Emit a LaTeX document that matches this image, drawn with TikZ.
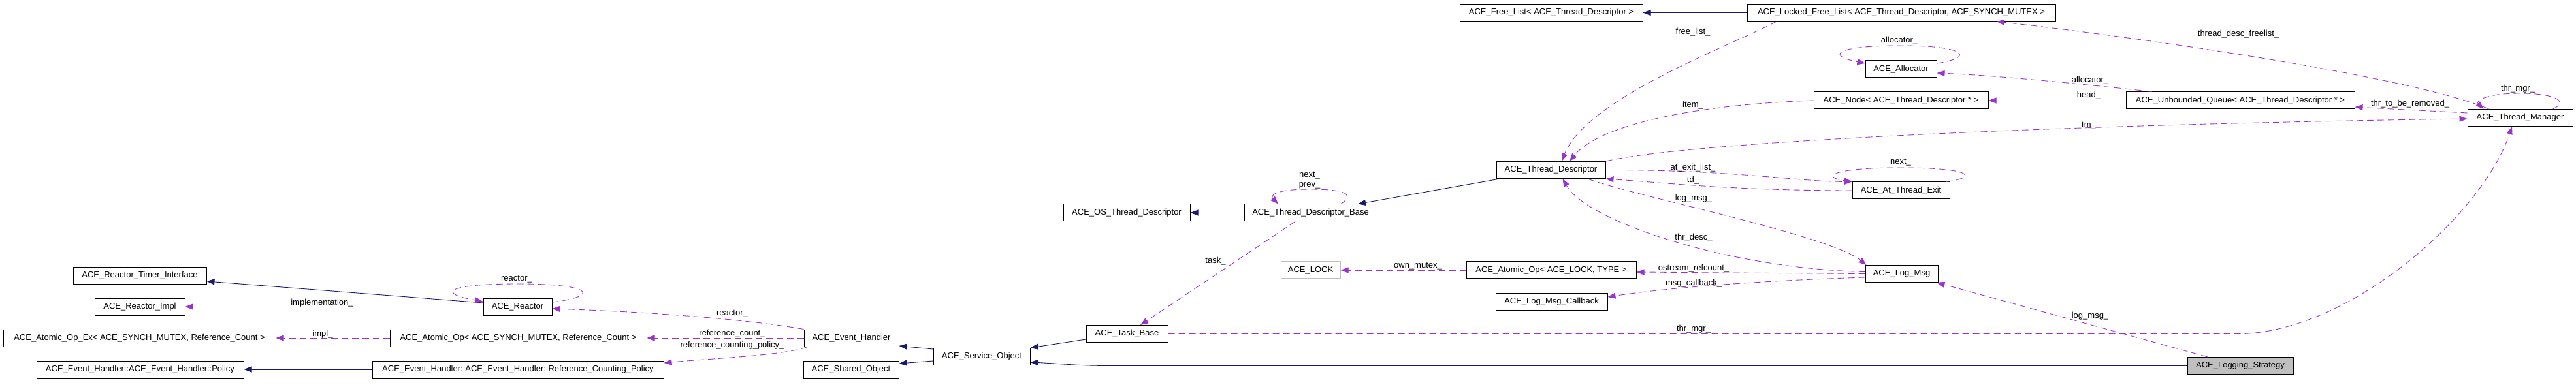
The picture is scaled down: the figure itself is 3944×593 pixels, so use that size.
\documentclass[tikz,border=0pt]{standalone}
\usepackage{fontspec}
\setmainfont{Liberation Sans}
\usetikzlibrary{arrows.meta}
\definecolor{dxblue}{HTML}{191970}
\definecolor{dxpurple}{HTML}{9A32CD}
\definecolor{dxgray}{HTML}{BFBFBF}
\begin{document}
\begin{tikzpicture}[x=1pt,y=-1pt,
  cls/.style={draw=black,line width=1pt,minimum height=26pt,inner sep=0pt,font=\fontsize{13}{15}\selectfont,fill=white},
  undoc/.style={cls,draw=dxgray},
  cur/.style={cls,fill=dxgray},
  inh/.style={draw=dxblue,line width=0.9pt,-{Triangle[length=12pt,width=9pt]}},
  use/.style={draw=dxpurple,line width=0.9pt,dash pattern=on 10pt off 6pt,-{Triangle[length=12pt,width=9pt]}},
  lbl/.style={font=\fontsize{13}{15}\selectfont,inner sep=0pt,anchor=base}]
\fill[white] (0,0) rectangle (3944,593);
\useasboundingbox (0,0) rectangle (3944,593);
% classes
\node[cls,minimum width=204pt] (rti) at (214,422.5) {ACE\_Reactor\_Timer\_Interface};
\node[cls,minimum width=138pt] (rimpl) at (214,470) {ACE\_Reactor\_Impl};
\node[cls,minimum width=417pt] (aopex) at (213.5,518) {ACE\_Atomic\_Op\_Ex< ACE\_SYNCH\_MUTEX, Reference\_Count >};
\node[cls,minimum width=317pt] (policy) at (214.5,566) {ACE\_Event\_Handler::ACE\_Event\_Handler::Policy};
\node[cls,minimum width=105pt] (reactor) at (792.5,470) {ACE\_Reactor};
\node[cls,minimum width=393pt] (aopsm) at (793.5,518) {ACE\_Atomic\_Op< ACE\_SYNCH\_MUTEX, Reference\_Count >};
\node[cls,minimum width=446pt] (rcpol) at (793,566) {ACE\_Event\_Handler::ACE\_Event\_Handler::Reference\_Counting\_Policy};
\node[cls,minimum width=145pt] (evh) at (1303.5,518) {ACE\_Event\_Handler};
\node[cls,minimum width=146pt] (shared) at (1303,566) {ACE\_Shared\_Object};
\node[cls,minimum width=148pt] (svc) at (1503,546) {ACE\_Service\_Object};
\node[cls,minimum width=125pt] (task) at (1725.5,511.5) {ACE\_Task\_Base};
\node[cls,minimum width=194pt] (osthr) at (1725,326) {ACE\_OS\_Thread\_Descriptor};
\node[cls,minimum width=203pt] (tdbase) at (2006.5,326) {ACE\_Thread\_Descriptor\_Base};
\node[undoc,minimum width=91pt] (lock) at (2006.5,414) {ACE\_LOCK};
\node[cls,minimum width=167pt] (tdesc) at (2374.5,260.5) {ACE\_Thread\_Descriptor};
\node[cls,minimum width=280pt] (freelist) at (2375,19.5) {ACE\_Free\_List< ACE\_Thread\_Descriptor >};
\node[cls,minimum width=260pt] (aoplock) at (2375,414) {ACE\_Atomic\_Op< ACE\_LOCK, TYPE >};
\node[cls,minimum width=171pt] (callback) at (2375.5,462) {ACE\_Log\_Msg\_Callback};
\node[cls,minimum width=472pt] (lockedfl) at (2911,19.5) {ACE\_Locked\_Free\_List< ACE\_Thread\_Descriptor, ACE\_SYNCH\_MUTEX >};
\node[cls,minimum width=109pt] (alloc) at (2910.5,106) {ACE\_Allocator};
\node[cls,minimum width=267pt] (tdnode) at (2910.5,154) {ACE\_Node< ACE\_Thread\_Descriptor * >};
\node[cls,minimum width=149pt] (atexit) at (2910.5,292) {ACE\_At\_Thread\_Exit};
\node[cls,minimum width=111pt] (logmsg) at (2911.5,419.5) {ACE\_Log\_Msg};
\node[cls,minimum width=350pt] (uqueue) at (3430,154) {ACE\_Unbounded\_Queue< ACE\_Thread\_Descriptor * >};
\node[cur,minimum width=162pt] (logstrat) at (3430,560.5) {ACE\_Logging\_Strategy};
\node[cls,minimum width=161pt] (thrmgr) at (3858.5,180.5) {ACE\_Thread\_Manager};
% inheritance
\draw[inh] ([yshift=6pt]reactor.west) -- ([yshift=-8.5pt]rti.east);
\draw[inh] (rcpol.west) -- (policy.east);
\draw[inh] ([yshift=11pt]svc.west) -- ([yshift=-12pt]evh.east);
\draw[inh] ([yshift=-7pt]svc.west) -- ([yshift=9pt]shared.east);
\draw[inh] ([yshift=-8.5pt]task.west) -- ([yshift=13pt]svc.east);
\draw[inh] (logstrat.west) -- ++(-1649,0) .. controls +(-50,0) and +(43,2) .. ([yshift=-9pt]svc.east);
\draw[inh] (tdbase.west) -- (osthr.east);
\draw[inh] ([xshift=6pt]tdesc.south west) -- ([xshift=72.5pt]tdbase.north);
\draw[inh] (lockedfl.west) -- (freelist.east);
% usage
\draw[use] (reactor.west) -- (rimpl.east);
\draw[use] ([yshift=7pt]reactor.east) .. controls (915,455) and (915,435) .. (792,435) .. controls (680,435) and (670,450) .. ([yshift=8pt]reactor.west);
\draw[use] (evh.north west) .. controls (1150,490) and (1000,478) .. ([yshift=-3pt]reactor.east);
\draw[use] (evh.west) -- (aopsm.east);
\draw[use] ([xshift=6pt]evh.south west) .. controls (1200,545) and (1080,550) .. ([yshift=10pt]rcpol.east);
\draw[use] (aopsm.west) -- (aopex.east);
\draw[use] ([xshift=46.5pt]tdbase.north) .. controls (2075,298) and (2060,290) .. (2006,290) .. controls (1950,290) and (1945,300) .. ([xshift=-49.5pt]tdbase.north);
\draw[use] ([xshift=-23.5pt]tdbase.south) -- ([xshift=20.5pt]task.north);
\draw[use] (aoplock.west) -- (lock.east);
\draw[use] (logmsg.west) -- ([yshift=-3pt]aoplock.east);
\draw[use] ([yshift=-5.5pt]logmsg.west) .. controls (2700,430) and (2560,440) .. ([yshift=7pt]callback.east);
\draw[use] ([yshift=3pt]logmsg.west) .. controls (2650,412) and (2430,340) .. ([xshift=18pt]tdesc.south);
\draw[use] ([xshift=56.5pt]tdesc.south) .. controls (2500,300) and (2800,360) .. ([xshift=2pt]logmsg.north west);
\draw[use] ([xshift=-50pt]logstrat.north) -- ([xshift=-2pt]logmsg.south east);
\draw[use] (task.east) -- ++(1645,0) .. controls +(167,-6) and +(-46,136) .. ([xshift=-12.5pt]thrmgr.south);
\draw[use] (tdesc.north east) .. controls (2600,215) and (3200,190) .. ([yshift=-1.5pt]thrmgr.west);
\draw[use] ([xshift=-191pt]lockedfl.south) .. controls (2650,70) and (2430,150) .. ([xshift=16.5pt]tdesc.north);
\draw[use] (tdnode.west) .. controls (2600,160) and (2450,190) .. ([xshift=28.5pt]tdesc.north);
\draw[use] (tdesc.east) .. controls (2650,260) and (2750,278) .. (atexit.north west);
\draw[use] (atexit.west) .. controls (2650,292) and (2550,280) .. (tdesc.south east);
\draw[use] ([xshift=-6pt]atexit.north east) .. controls (3030,272) and (3020,257) .. (2910,257) .. controls (2800,257) and (2790,272) .. (atexit.north west);
\draw[use] ([xshift=40pt]uqueue.north west) .. controls (3200,130) and (3050,115) .. ([yshift=-6pt]alloc.east);
\draw[use] ([yshift=9pt]alloc.east) .. controls (3025,88) and (3010,70) .. (2910,70) .. controls (2810,70) and (2795,85) .. ([yshift=9pt]alloc.west);
\draw[use] (uqueue.west) -- (tdnode.east);
\draw[use] ([yshift=7.5pt]thrmgr.west) -- ([yshift=-10pt]uqueue.east);
\draw[use] ([xshift=-48pt]thrmgr.north) .. controls (3700,120) and (3300,60) .. ([xshift=146pt]lockedfl.south);
\draw[use] ([xshift=50pt]thrmgr.north) .. controls (3935,155) and (3910,143) .. (3858,143) .. controls (3805,143) and (3790,155) .. ([xshift=-56pt]thrmgr.north);
% labels
\node[lbl] (l1) at (791,431) {reactor\_};
\node[lbl] (l2) at (493,467) {implementation\_};
\node[lbl] (l3) at (494,515) {impl\_};
\node[lbl] (l4) at (1121,483) {reactor\_};
\node[lbl] (l5) at (1121,514) {reference\_count\_};
\node[lbl] (l6) at (1121,532) {reference\_counting\_policy\_};
\node[lbl] (l7) at (1861,404) {task\_};
\node[lbl] (l8) at (2593,308) {log\_msg\_};
\node[lbl] (l9) at (2593,368) {thr\_desc\_};
\node[lbl] (l10) at (2171,411) {own\_mutex\_};
\node[lbl] (l11) at (2593,414) {ostream\_refcount\_};
\node[lbl] (l12) at (2593,437) {msg\_callback\_};
\node[lbl] (l13) at (2593,507) {thr\_mgr\_};
\node[lbl] (l14) at (3200,487) {log\_msg\_};
\node[lbl] (l15) at (2592,53) {free\_list\_};
\node[lbl] (l16) at (2592,165) {item\_};
\node[lbl] (l17) at (2592,261) {at\_exit\_list\_};
\node[lbl] (l18) at (2592,280) {td\_};
\node[lbl] (l19) at (2005,272) {next\_};
\node[lbl] (l20) at (2005,287) {prev\_};
\node[lbl] (l21) at (3427,56) {thread\_desc\_freelist\_};
\node[lbl] (l22) at (2908,66) {allocator\_};
\node[lbl] (l23) at (3200,127) {allocator\_};
\node[lbl] (l24) at (3198,150) {head\_};
\node[lbl] (l25) at (3855,140) {thr\_mgr\_};
\node[lbl] (l26) at (3690,163) {thr\_to\_be\_removed\_};
\node[lbl] (l27) at (3198,196) {tm\_};
\node[lbl] (l28) at (2910,252) {next\_};
\end{tikzpicture}
\end{document}
